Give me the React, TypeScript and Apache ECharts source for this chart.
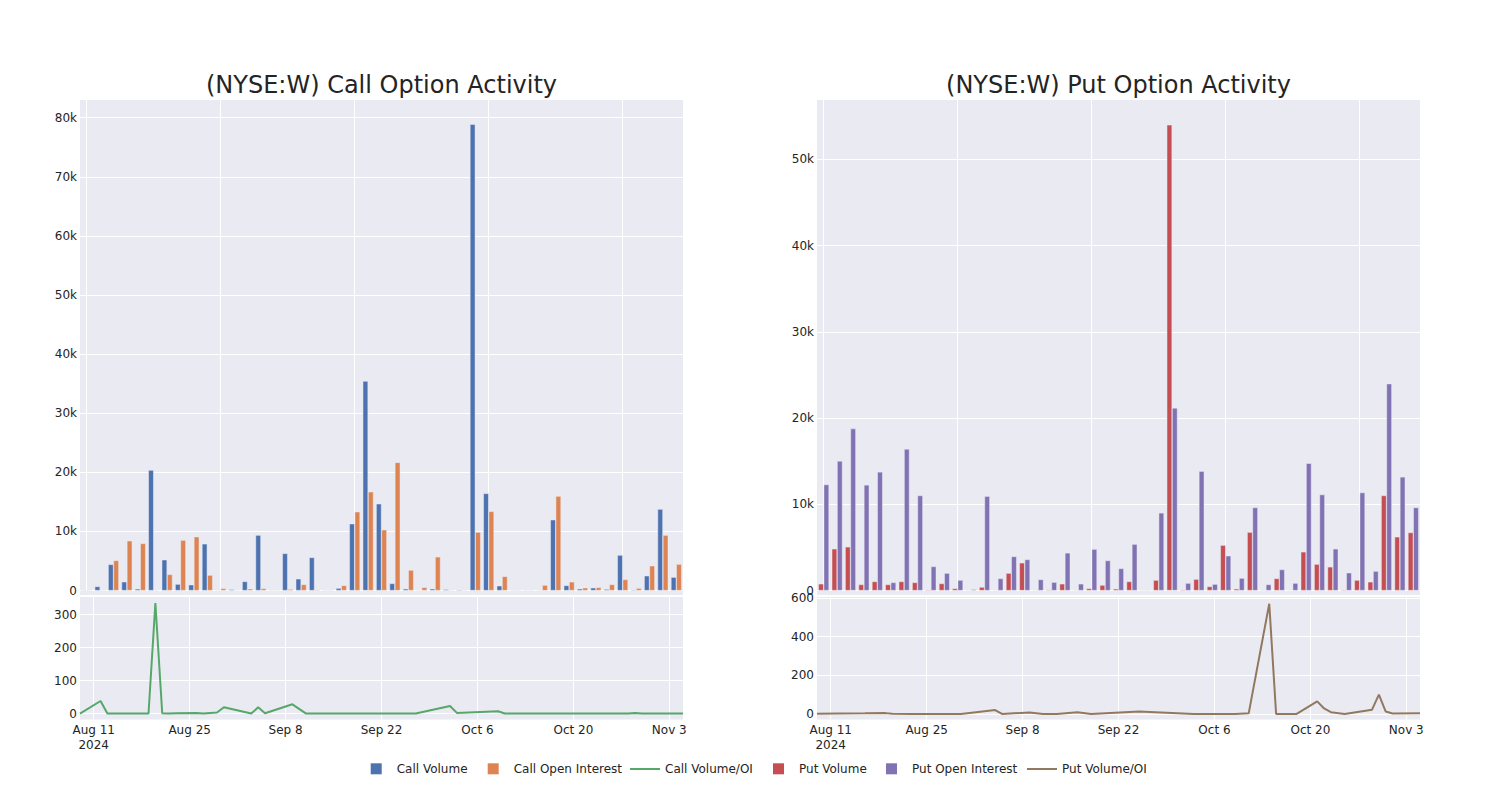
import React, { useEffect, useRef } from 'react';
import * as echarts from 'echarts';

// ---- data ----
const barDates = [
  '2024-08-09', '2024-08-12', '2024-08-13', '2024-08-16', '2024-08-19', '2024-08-20', '2024-08-21', '2024-08-22',
  '2024-08-23', '2024-08-26', '2024-08-27', '2024-08-28', '2024-08-29', '2024-08-30', '2024-09-03', '2024-09-04',
  '2024-09-05', '2024-09-09', '2024-09-11', '2024-09-13', '2024-09-16', '2024-09-18', '2024-09-20', '2024-09-23',
  '2024-09-25', '2024-09-27', '2024-10-02', '2024-10-03', '2024-10-09', '2024-10-10', '2024-10-11', '2024-10-14',
  '2024-10-15', '2024-10-16', '2024-10-17', '2024-10-18', '2024-10-21', '2024-10-22', '2024-10-23', '2024-10-25',
  '2024-10-29', '2024-10-30', '2024-10-31', '2024-11-01', '2024-11-05',
];

const callVolume = [
  100, 700, 4430, 1500, 300, 20390, 5220, 1100, 990, 7920, 80, 200, 1550, 9390, 0, 6290, 2000, 5610, 30, 420,
  11310, 35450, 14690, 1210, 310, 80, 310, 200, 140, 78900, 16440, 820, 30, 0, 30, 11990, 870, 310, 480, 250,
  6010, 140, 2510, 13790, 2280,
];
const callOpenInterest = [
  100, 0, 5100, 8430, 7980, 0, 2740, 8540, 9110, 2620, 370, 30, 310, 370, 0, 250, 1040, 140, 30, 870,
  13340, 16720, 10290, 21690, 3470, 540, 5720, 0, 80, 9900, 13400, 2400, 30, 0, 930, 15990, 1490, 480, 540, 1040,
  1890, 420, 4200, 9390, 4480,
];
const putVolume = [
  790, 4850, 5080, 710, 1060, 710, 1060, 950, 100, 830, 250, 0, 410, 60, 2030, 3220, 0, 100, 790, 30,
  250, 640, 210, 1060, 0, 1220, 54020, 100, 1330, 480, 5270, 210, 6780, 0, 1410, 60, 4500, 3070, 2760, 100,
  1220, 1020, 11030, 6240, 6740,
];
const putOpenInterest = [
  12300, 15040, 18790, 12260, 13770, 950, 16430, 11030, 2800, 2030, 1220, 140, 10950, 1410, 3960, 3610, 1290, 980, 4380, 790,
  4810, 3490, 2570, 5390, 20, 9020, 21190, 870, 13850, 750, 4040, 1450, 9640, 710, 2450, 870, 14770, 11140, 4850, 2070,
  11370, 2260, 24000, 13190, 9640,
];

const callRatioDates = [
  '2024-08-09', '2024-08-12', '2024-08-13', '2024-08-16', '2024-08-19', '2024-08-20', '2024-08-21', '2024-08-22',
  '2024-08-23', '2024-08-26', '2024-08-27', '2024-08-28', '2024-08-29', '2024-08-30', '2024-09-03', '2024-09-04',
  '2024-09-05', '2024-09-09', '2024-09-11', '2024-09-13', '2024-09-16', '2024-09-18', '2024-09-20', '2024-09-23',
  '2024-09-25', '2024-09-27', '2024-10-02', '2024-10-03', '2024-10-09', '2024-10-10', '2024-10-14', '2024-10-17',
  '2024-10-21', '2024-10-24', '2024-10-28', '2024-10-29', '2024-10-30', '2024-11-01', '2024-11-05',
];
const callRatio = [
  0, 38, 0, 0, 0, 335, 1, 0, 1, 2, 0, 2, 3, 19, 0, 19, 1, 28, 0, 0, 0, 0, 0, 0, 0, 0, 23, 2, 7, 0, 0, 0, 0, 0, 0, 2, 0, 0, 0,
];

const putRatioDates = [
  '2024-08-09', '2024-08-12', '2024-08-16', '2024-08-19', '2024-08-20', '2024-08-23', '2024-08-27', '2024-08-30',
  '2024-09-04', '2024-09-05', '2024-09-09', '2024-09-11', '2024-09-13', '2024-09-16', '2024-09-18', '2024-09-25',
  '2024-10-03', '2024-10-09', '2024-10-11', '2024-10-14', '2024-10-15', '2024-10-18', '2024-10-21', '2024-10-22',
  '2024-10-23', '2024-10-25', '2024-10-29', '2024-10-30', '2024-10-31', '2024-11-01', '2024-11-05',
];
const putRatio = [
  1, 2, 3, 4, 1, 0, 0, 0, 20, 0, 7, 0, 0, 9, 0, 13, 0, 0, 3, 570, 0, 0, 65, 28, 9, 0, 22, 100, 12, 2, 3,
];

const xStart = '2024-08-09';
const xEnd = '2024-11-05';
const tickDates = ['2024-08-11', '2024-08-25', '2024-09-08', '2024-09-22', '2024-10-06', '2024-10-20', '2024-11-03'];
const MONTHS = ['Jan', 'Feb', 'Mar', 'Apr', 'May', 'Jun', 'Jul', 'Aug', 'Sep', 'Oct', 'Nov', 'Dec'];

// ---- style ----
const FONT = 'DejaVu Sans';
const TEXT = '#242424';
const BG = '#EAEAF2';
const C_BLUE = 'rgb(76,114,176)';
const C_ORANGE = 'rgb(221,132,82)';
const C_GREEN = 'rgb(85,168,104)';
const C_RED = 'rgb(196,78,82)';
const C_PURPLE = 'rgb(129,114,179)';
const C_BROWN = 'rgb(147,120,96)';

const DAY = 86400000;
const ts = (d: string) => Date.parse(d + 'T00:00:00Z');

const fmtDate = (v: number) => {
  const d = new Date(Math.round(v));
  const iso = d.toISOString().slice(0, 10);
  const i = tickDates.indexOf(iso);
  if (i < 0) return '';
  const s = MONTHS[d.getUTCMonth()] + ' ' + d.getUTCDate();
  return i === 0 ? s + '\n' + d.getUTCFullYear() : s;
};

const kFmt = (v: number) => (v === 0 ? '0' : Math.round(v / 1000) + 'k');

export default function App() {
  const ref = useRef<HTMLDivElement>(null);

  useEffect(() => {
    if (!ref.current) return;
    const chart = echarts.init(ref.current, undefined, { renderer: 'svg' });

    const offset = Math.round((ts(tickDates[0]) - ts(xStart)) / DAY) % 14;
    const dayGridColors = Array.from({ length: 14 }, (_, i) => (i === offset ? '#ffffff' : 'rgba(0,0,0,0)'));

    const axisLabelBase = { color: TEXT, fontSize: 12, fontFamily: FONT };

    const catAxis = (gridIndex: number) => ({
      type: 'category',
      gridIndex,
      data: barDates,
      axisLine: { show: false },
      axisTick: { show: false },
      axisLabel: { show: false },
      splitLine: { show: true, interval: 9, alignWithLabel: true, lineStyle: { color: '#ffffff', width: 1 } },
    });

    const timeAxis = (gridIndex: number) => ({
      type: 'value',
      gridIndex,
      min: ts(xStart),
      max: ts(xEnd),
      interval: DAY,
      axisLine: { show: false },
      axisTick: { show: false },
      axisLabel: { ...axisLabelBase, formatter: fmtDate, margin: 3, lineHeight: 15 },
      splitLine: { show: true, lineStyle: { color: dayGridColors, width: 1 } },
    });

    const barYAxis = (gridIndex: number, max: number) => ({
      type: 'value',
      gridIndex,
      min: 0,
      max,
      interval: 10000,
      axisLine: { show: false },
      axisTick: { show: false },
      axisLabel: { ...axisLabelBase, margin: 3, formatter: (v: number) => (v % 10000 === 0 ? kFmt(v) : '') },
      splitLine: { show: true, lineStyle: { color: '#ffffff', width: 1 }, showMaxLine: false },
    });

    const lineYAxis = (gridIndex: number, min: number, max: number, step: number) => ({
      type: 'value',
      gridIndex,
      min,
      max,
      minInterval: step,
      maxInterval: step,
      splitNumber: Math.round((max - min) / step),
      axisLine: { show: false },
      axisTick: { show: false },
      axisLabel: { ...axisLabelBase, margin: 3, formatter: (v: number) => (Math.abs(v % step) < 1e-6 ? String(v) : '') },
      splitLine: { show: true, lineStyle: { color: '#ffffff', width: 1 }, showMinLine: false, showMaxLine: false },
    });

    const barStyle = (color: string) => ({ color, borderColor: BG, borderWidth: 0.5 });

    const legendItem = (name: string, left: number, isLine: boolean) => ({
      data: [name],
      left,
      top: isLine ? 763 : 762.8,
      padding: 0,
      itemGap: 0,
      selectedMode: false,
      icon: 'rect',
      itemWidth: isLine ? 30 : 11,
      itemHeight: isLine ? 2 : 11,
      itemStyle: { borderWidth: 0 },
      textStyle: { fontSize: 12, color: TEXT, fontFamily: FONT, padding: isLine ? 0 : [0, 0, 0, 10] },
    });

    const option: any = {
      animation: false,
      textStyle: { fontFamily: FONT },
      grid: [
        { left: 80, top: 100, width: 603, height: 490.6, show: true, backgroundColor: BG, borderWidth: 0 },
        { left: 80, top: 597, width: 603, height: 122.5, show: true, backgroundColor: BG, borderWidth: 0 },
        { left: 817, top: 100, width: 603, height: 490.6, show: true, backgroundColor: BG, borderWidth: 0 },
        { left: 817, top: 597, width: 603, height: 122.5, show: true, backgroundColor: BG, borderWidth: 0 },
      ],
      xAxis: [catAxis(0), timeAxis(1), catAxis(2), timeAxis(3)],
      yAxis: [
        barYAxis(0, 83000),
        lineYAxis(1, -18, 353, 100),
        barYAxis(2, 56900),
        lineYAxis(3, -29, 605, 200),
      ],
      legend: [
        legendItem('Call Volume', 370.7, false),
        legendItem('Call Open Interest', 487.7, false),
        legendItem('Call Volume/OI', 630, true),
        legendItem('Put Volume', 773, false),
        legendItem('Put Open Interest', 886, false),
        legendItem('Put Volume/OI', 1027, true),
      ],
      graphic: [
        {
          type: 'rect', silent: true, z: -10,
          shape: { x: 80, y: 591.1, width: 603, height: 3.9 }, style: { fill: BG },
        },
        {
          type: 'rect', silent: true, z: -10,
          shape: { x: 817, y: 591.1, width: 603, height: 3.9 }, style: { fill: BG },
        },
        {
          type: 'text', x: 381.5, y: 84.5,
          style: { text: '(NYSE:W) Call Option Activity', fill: TEXT, fontSize: 24, fontFamily: FONT, textAlign: 'center', textVerticalAlign: 'middle' },
        },
        {
          type: 'text', x: 1118.5, y: 84.5,
          style: { text: '(NYSE:W) Put Option Activity', fill: TEXT, fontSize: 24, fontFamily: FONT, textAlign: 'center', textVerticalAlign: 'middle' },
        },
      ],
      series: [
        {
          name: 'Call Volume', type: 'bar', xAxisIndex: 0, yAxisIndex: 0, data: callVolume,
          barCategoryGap: '20%', barGap: '0%', itemStyle: barStyle(C_BLUE),
        },
        {
          name: 'Call Open Interest', type: 'bar', xAxisIndex: 0, yAxisIndex: 0, data: callOpenInterest,
          barCategoryGap: '20%', barGap: '0%', itemStyle: barStyle(C_ORANGE),
        },
        {
          name: 'Call Volume/OI', type: 'line', xAxisIndex: 1, yAxisIndex: 1,
          data: callRatioDates.map((d, i) => [ts(d), callRatio[i]]),
          symbol: 'none', showSymbol: false, color: C_GREEN, lineStyle: { color: C_GREEN, width: 2 },
        },
        {
          name: 'Put Volume', type: 'bar', xAxisIndex: 2, yAxisIndex: 2, data: putVolume,
          barCategoryGap: '20%', barGap: '0%', itemStyle: barStyle(C_RED),
        },
        {
          name: 'Put Open Interest', type: 'bar', xAxisIndex: 2, yAxisIndex: 2, data: putOpenInterest,
          barCategoryGap: '20%', barGap: '0%', itemStyle: barStyle(C_PURPLE),
        },
        {
          name: 'Put Volume/OI', type: 'line', xAxisIndex: 3, yAxisIndex: 3,
          data: putRatioDates.map((d, i) => [ts(d), putRatio[i]]),
          symbol: 'none', showSymbol: false, color: C_BROWN, lineStyle: { color: C_BROWN, width: 2 },
        },
      ],
    };

    chart.setOption(option);
    return () => chart.dispose();
  }, []);

  return (
    <div
      ref={ref}
      style={{ position: 'absolute', left: 0, top: 0, width: 1500, height: 800, background: '#ffffff' }}
    />
  );
}
